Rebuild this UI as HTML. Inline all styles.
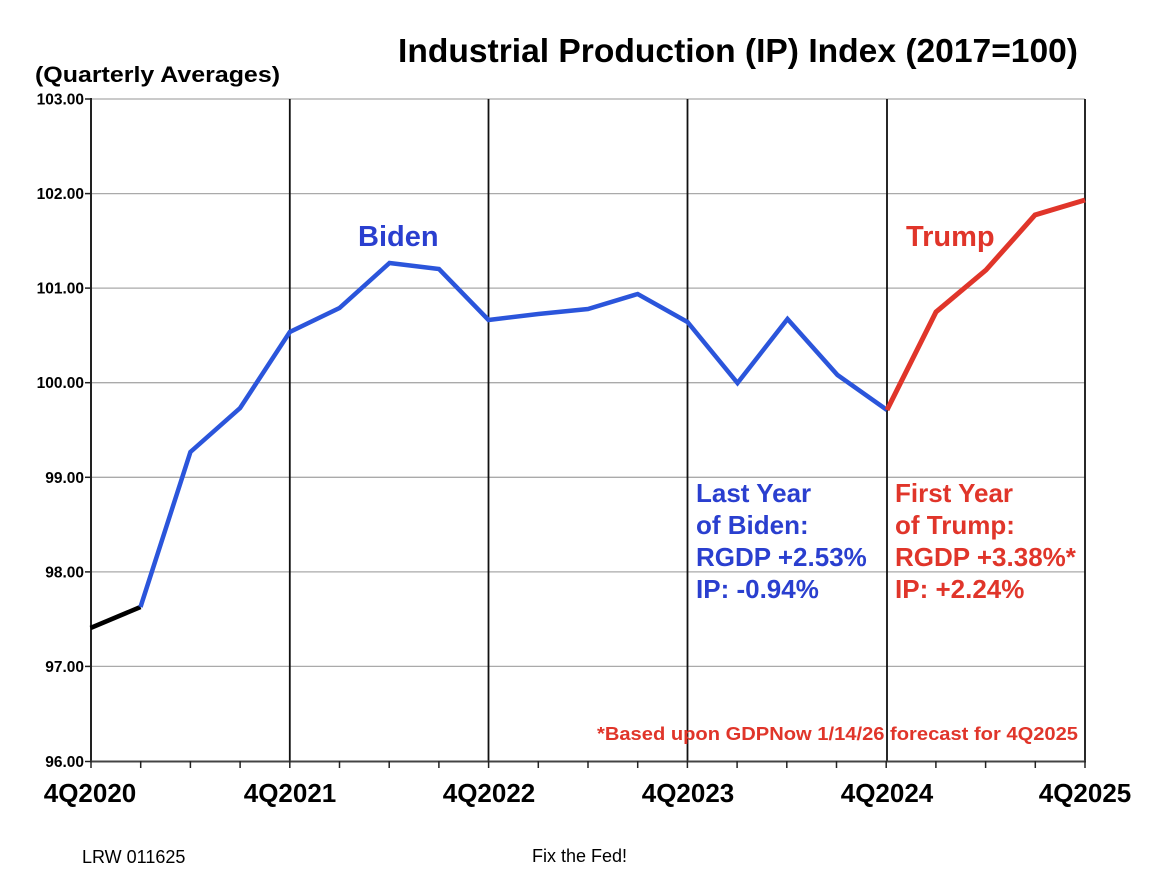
<!DOCTYPE html>
<html>
<head>
<meta charset="utf-8">
<style>
html,body{margin:0;padding:0;background:#fff;}
svg{display:block;}
text{font-family:"Liberation Sans",Arial,sans-serif;}
</style>
</head>
<body>
<svg width="1150" height="888" viewBox="0 0 1150 888" xmlns="http://www.w3.org/2000/svg">
<rect x="0" y="0" width="1150" height="888" fill="#fff"/>
<!-- Title -->
<text x="398" y="62" font-size="33" font-weight="bold" fill="#000" textLength="680" lengthAdjust="spacingAndGlyphs">Industrial Production (IP) Index (2017=100)</text>
<text x="35" y="82" font-size="22" font-weight="bold" fill="#000" textLength="245" lengthAdjust="spacingAndGlyphs">(Quarterly Averages)</text>

<!-- horizontal gridlines -->
<g stroke="#aaa" stroke-width="1.3">
<line x1="91" y1="99" x2="1085" y2="99"/>
<line x1="91" y1="193.6" x2="1085" y2="193.6"/>
<line x1="91" y1="288.1" x2="1085" y2="288.1"/>
<line x1="91" y1="382.7" x2="1085" y2="382.7"/>
<line x1="91" y1="477.3" x2="1085" y2="477.3"/>
<line x1="91" y1="571.9" x2="1085" y2="571.9"/>
<line x1="91" y1="666.4" x2="1085" y2="666.4"/>
</g>
<!-- vertical year lines -->
<g stroke="#111" stroke-width="1.8">
<line x1="289.8" y1="99" x2="289.8" y2="761"/>
<line x1="488.5" y1="99" x2="488.5" y2="761"/>
<line x1="687.5" y1="99" x2="687.5" y2="761"/>
<line x1="887" y1="99" x2="887" y2="761"/>
<line x1="1085" y1="99" x2="1085" y2="761"/>
</g>
<!-- axes -->
<line x1="91" y1="98" x2="91" y2="762" stroke="#222" stroke-width="2"/>
<line x1="90" y1="761.5" x2="1086" y2="761.5" stroke="#444" stroke-width="2"/>
<!-- y ticks -->
<g stroke="#222" stroke-width="1.5">
<line x1="85" y1="99" x2="91" y2="99"/>
<line x1="85" y1="193.6" x2="91" y2="193.6"/>
<line x1="85" y1="288.1" x2="91" y2="288.1"/>
<line x1="85" y1="382.7" x2="91" y2="382.7"/>
<line x1="85" y1="477.3" x2="91" y2="477.3"/>
<line x1="85" y1="571.9" x2="91" y2="571.9"/>
<line x1="85" y1="666.4" x2="91" y2="666.4"/>
<line x1="85" y1="761.5" x2="91" y2="761.5"/>
</g>
<!-- x ticks -->
<g stroke="#222" stroke-width="1.5">
<line x1="91" y1="761" x2="91" y2="768"/>
<line x1="140.7" y1="761" x2="140.7" y2="768"/>
<line x1="190.4" y1="761" x2="190.4" y2="768"/>
<line x1="240.1" y1="761" x2="240.1" y2="768"/>
<line x1="289.8" y1="761" x2="289.8" y2="768"/>
<line x1="339.5" y1="761" x2="339.5" y2="768"/>
<line x1="389.2" y1="761" x2="389.2" y2="768"/>
<line x1="438.9" y1="761" x2="438.9" y2="768"/>
<line x1="488.6" y1="761" x2="488.6" y2="768"/>
<line x1="538.3" y1="761" x2="538.3" y2="768"/>
<line x1="588" y1="761" x2="588" y2="768"/>
<line x1="637.7" y1="761" x2="637.7" y2="768"/>
<line x1="687.4" y1="761" x2="687.4" y2="768"/>
<line x1="737.1" y1="761" x2="737.1" y2="768"/>
<line x1="786.8" y1="761" x2="786.8" y2="768"/>
<line x1="836.5" y1="761" x2="836.5" y2="768"/>
<line x1="886.2" y1="761" x2="886.2" y2="768"/>
<line x1="935.9" y1="761" x2="935.9" y2="768"/>
<line x1="985.6" y1="761" x2="985.6" y2="768"/>
<line x1="1035.3" y1="761" x2="1035.3" y2="768"/>
<line x1="1085" y1="761" x2="1085" y2="768"/>
</g>
<!-- y labels -->
<g font-size="15.5" font-weight="bold" fill="#000" text-anchor="end">
<text x="84" y="104.5">103.00</text>
<text x="84" y="199.1">102.00</text>
<text x="84" y="293.6">101.00</text>
<text x="84" y="388.2">100.00</text>
<text x="84" y="482.8">99.00</text>
<text x="84" y="577.4">98.00</text>
<text x="84" y="671.9">97.00</text>
<text x="84" y="767">96.00</text>
</g>
<!-- x labels -->
<g font-size="26" font-weight="bold" fill="#000" text-anchor="middle">
<text x="90" y="802">4Q2020</text>
<text x="290" y="802">4Q2021</text>
<text x="489" y="802">4Q2022</text>
<text x="688" y="802">4Q2023</text>
<text x="887" y="802">4Q2024</text>
<text x="1085" y="802">4Q2025</text>
</g>

<!-- series -->
<polyline fill="none" stroke="#000" stroke-width="4.5" stroke-linejoin="round" points="90.5,628 140.5,607"/>
<polyline fill="none" stroke="#2b55db" stroke-width="4.5" stroke-linejoin="miter" points="140.5,607 190.4,452 240.1,408 289.8,332 339.5,308 389.5,263 439,269 488.5,320 538.3,314 588,309 637.7,294 687.5,322 737.5,383 787.5,319 837.5,375 887,410"/>
<polyline fill="none" stroke="#e0352a" stroke-width="5" stroke-linejoin="miter" points="887,410 936,312 986,270 1035,215 1085,200"/>

<!-- annotations -->
<text x="358" y="246" font-size="29" font-weight="bold" fill="#2a3fcf">Biden</text>
<text x="906" y="246" font-size="29" font-weight="bold" fill="#e0352a">Trump</text>
<g font-size="26" font-weight="bold" fill="#2a3fcf">
<text x="696" y="502">Last Year</text>
<text x="696" y="534">of Biden:</text>
<text x="696" y="566">RGDP +2.53%</text>
<text x="696" y="598">IP: -0.94%</text>
</g>
<g font-size="26" font-weight="bold" fill="#e0352a">
<text x="895" y="502">First Year</text>
<text x="895" y="534">of Trump:</text>
<text x="895" y="566">RGDP +3.38%*</text>
<text x="895" y="598">IP: +2.24%</text>
</g>
<text x="597" y="740" font-size="18" font-weight="bold" fill="#e0352a" textLength="481" lengthAdjust="spacingAndGlyphs">*Based upon GDPNow 1/14/26 forecast for 4Q2025</text>

<!-- footer -->
<text x="82" y="863" font-size="18" fill="#000">LRW 011625</text>
<text x="532" y="862" font-size="18" fill="#000">Fix the Fed!</text>
</svg>
</body>
</html>
